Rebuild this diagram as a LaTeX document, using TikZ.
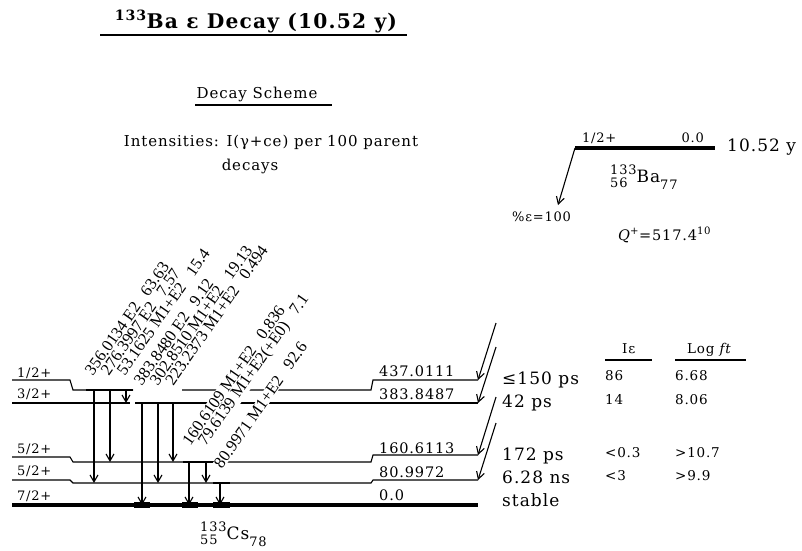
\documentclass[tikz,border=0pt]{standalone}
\usepackage{fontspec}
\usepackage{amsmath}
\setmainfont{DejaVu Serif}[LetterSpace=6]
\newfontfamily\glabfont{Liberation Serif}
\usetikzlibrary{arrows.meta, calc}
\newcommand{\scr}{\fontsize{13}{13}\selectfont}
\newcommand{\nuc}[4]{{\scr\raisebox{-5pt}{\begin{tabular}[b]{@{}l@{}}#1\\[-1pt]#2\end{tabular}}}#3{\scr\raisebox{-7pt}{#4}}}
\tikzset{
  ttl/.style={font=\fontsize{20.2}{22}\selectfont\bfseries, inner sep=0},
  hdr/.style={font=\fontsize{15}{18}\selectfont, inner sep=0},
  lab/.style={font=\fontsize{13}{15}\selectfont, inner sep=0, anchor=base west},
  elab/.style={font=\fontsize{14.5}{16}\selectfont, inner sep=0, anchor=base west},
  tab/.style={font=\fontsize{13.5}{15}\selectfont, inner sep=0, anchor=base west},
  big/.style={font=\fontsize{17}{20}\selectfont, inner sep=0, anchor=base west},
  nucl/.style={font=\fontsize{17}{20}\selectfont, inner sep=0, anchor=base west},
  glab/.style={font=\glabfont\fontsize{16.5}{18}\selectfont, rotate=55, anchor=base west, inner sep=0.3pt, fill=white},
  lvl/.style={line width=1.1pt},
  dep/.style={line width=1.8pt},
  gnd/.style={line width=4pt},
  gmark/.style={line width=6pt},
  uline/.style={line width=1.2pt},
  gam/.style={-{Straight Barb[length=7pt,width=8pt]}, line width=1.1pt}
}
\begin{document}
\begin{tikzpicture}[x=1pt, y=-1pt]
  \useasboundingbox (0,0) rectangle (802,550);
  % Headings
  \node[ttl, anchor=base] (title) at (256,28) {\textsuperscript{133}Ba ε Decay (10.52 y)};
  \draw[uline] (100,35) -- (407,35);
  \node[hdr, anchor=base] (scheme) at (257,98) {Decay Scheme};
  \draw[uline] (195,105) -- (332,105);
  \node[hdr, anchor=base] (intens) at (271,146) {Intensities: I(γ+ce) per 100 parent};
  \node[hdr, anchor=base] (decays) at (250,170) {decays};

  % Parent level
  \coordinate (p0) at (575,148);
  \coordinate (pend) at (558,205);
  \draw[gnd] (p0) -- (715,148);
  \node[lab] (pspin) at (582,142) {1/2+};
  \node[lab, anchor=base east] (pen) at (704,142) {0.0};
  \node[big] (phalf) at (727,151) {10.52 y};
  \node[nucl] (parent) at (610,182) {\nuc{133}{56}{Ba}{77}};
  \draw[gam] (p0) -- (pend);
  \node[lab] (pct) at (512,221) {\%ε=100};
  \node[elab] (qval) at (618,240) {{\itshape Q}\textsuperscript{+}=517.4\textsuperscript{10}};

  % Daughter levels
  \coordinate (l437) at (0,390);
  \coordinate (l384) at (0,403);
  \coordinate (l161) at (0,462);
  \coordinate (l81) at (0,483);
  \coordinate (l0) at (0,505);
  \coordinate (r437) at (478,380);
  \coordinate (r384) at (478,403);
  \coordinate (r161) at (478,455);
  \coordinate (r81) at (478,480);
  \draw[lvl] (12,380) -- (70,380) -- (73,390) -- (133,390);
  \draw[lvl] (182,390) -- (371,390) -- (373,380) -- (r437);
  \draw[lvl] (12,403) -- (130,403);
  \draw[lvl] (182,403) -- (r384);
  \draw[lvl] (12,457) -- (70,457) -- (73,462) -- (371,462) -- (373,455) -- (r161);
  \draw[lvl] (12,480) -- (70,480) -- (73,483) -- (371,483) -- (373,480) -- (r81);
  \draw[gnd] (12,505) -- (478,505);
  \draw[dep] (86,390) -- (133,390);
  \draw[dep] (135,403) -- (182,403);
  \draw[dep] (183,462) -- (217,462);
  \draw[line width=2.5pt] (213,483) -- (230,483);
  \draw[gmark] (134,505) -- (150,505);
  \draw[gmark] (182,505) -- (198,505);
  \draw[gmark] (213,505) -- (230,505);

  \node[lab] (s437) at (17,377) {1/2+};
  \node[lab] (s384) at (17,398) {3/2+};
  \node[lab] (s161) at (17,453) {5/2+};
  \node[lab] (s81) at (17,475) {5/2+};
  \node[lab] (s0) at (17,500) {7/2+};

  \node[elab] (e437) at (379,376) {437.0111};
  \node[elab] (e384) at (379,399) {383.8487};
  \node[elab] (e161) at (379,453) {160.6113};
  \node[elab] (e81) at (379,477) {80.9972};
  \node[elab] (e0) at (379,500) {0.0};

  \node[big] (t437) at (502,384) {≤150 ps};
  \node[big] (t384) at (502,407) {42 ps};
  \node[big] (t161) at (502,460) {172 ps};
  \node[big] (t81) at (502,483) {6.28 ns};
  \node[big] (t0) at (502,506) {stable};

  \node[nucl] (daughter) at (200,539) {\nuc{133}{55}{Cs}{78}};

  % Feeding
  \draw[gam] ($(r437)+(18,-57)$) -- (r437);
  \draw[gam] ($(r384)+(18,-56)$) -- (r384);
  \draw[gam] ($(r161)+(18,-58)$) -- (r161);
  \draw[gam] ($(r81)+(18,-57)$) -- (r81);

  % Table
  \node[tab] (hie) at (622,353) {Iε};
  \draw[uline] (605,360) -- (652,360);
  \node[tab] (hft) at (687,353) {Log {\itshape ft}};
  \draw[uline] (675,360) -- (746,360);
  \node[tab] (ie437) at (605,380) {86};
  \node[tab] (ft437) at (675,380) {6.68};
  \node[tab] (ie384) at (605,404) {14};
  \node[tab] (ft384) at (675,404) {8.06};
  \node[tab] (ie161) at (605,457) {<0.3};
  \node[tab] (ft161) at (675,457) {>10.7};
  \node[tab] (ie81) at (605,480) {<3};
  \node[tab] (ft81) at (675,480) {>9.9};

  % Gamma labels
  \node[glab] (g356) at (92.7,376.7) {356.0134 E2~~~63.63};
  \node[glab] (g276) at (108.5,376.7) {276.3997 E2~~~7.57};
  \node[glab] (g53) at (124.5,376.7) {53.1625 M1+E2~~~15.4};
  \node[glab] (g384) at (141.7,386.7) {383.8480 E2~~~9.12};
  \node[glab] (g303) at (157.5,386.7) {302.8510 M1+E2~~~19.13};
  \node[glab] (g223) at (173,386.7) {223.2373 M1+E2~~~0.494};
  \node[glab] (g161) at (190,446.7) {160.6109 M1+E2~~~0.836};
  \node[glab] (g80) at (205.5,446.7) {79.6139 M1+E2(+E0)~~~7.1};
  \node[glab] (g81) at (221.7,470) {80.9971 M1+E2~~~92.6};

  % Gammas
  \draw[gam] (94,0 |- l437) -- (94,0 |- l81);
  \draw[gam] (110,0 |- l437) -- (110,0 |- l161);
  \draw[gam] (126,0 |- l437) -- (126,0 |- l384);
  \draw[gam] (142,0 |- l384) -- (142,0 |- l0);
  \draw[gam] (158,0 |- l384) -- (158,0 |- l81);
  \draw[gam] (173,0 |- l384) -- (173,0 |- l161);
  \draw[gam] (189,0 |- l161) -- (189,0 |- l0);
  \draw[gam] (206,0 |- l161) -- (206,0 |- l81);
  \draw[gam] (220,0 |- l81) -- (220,0 |- l0);
\end{tikzpicture}
\end{document}
